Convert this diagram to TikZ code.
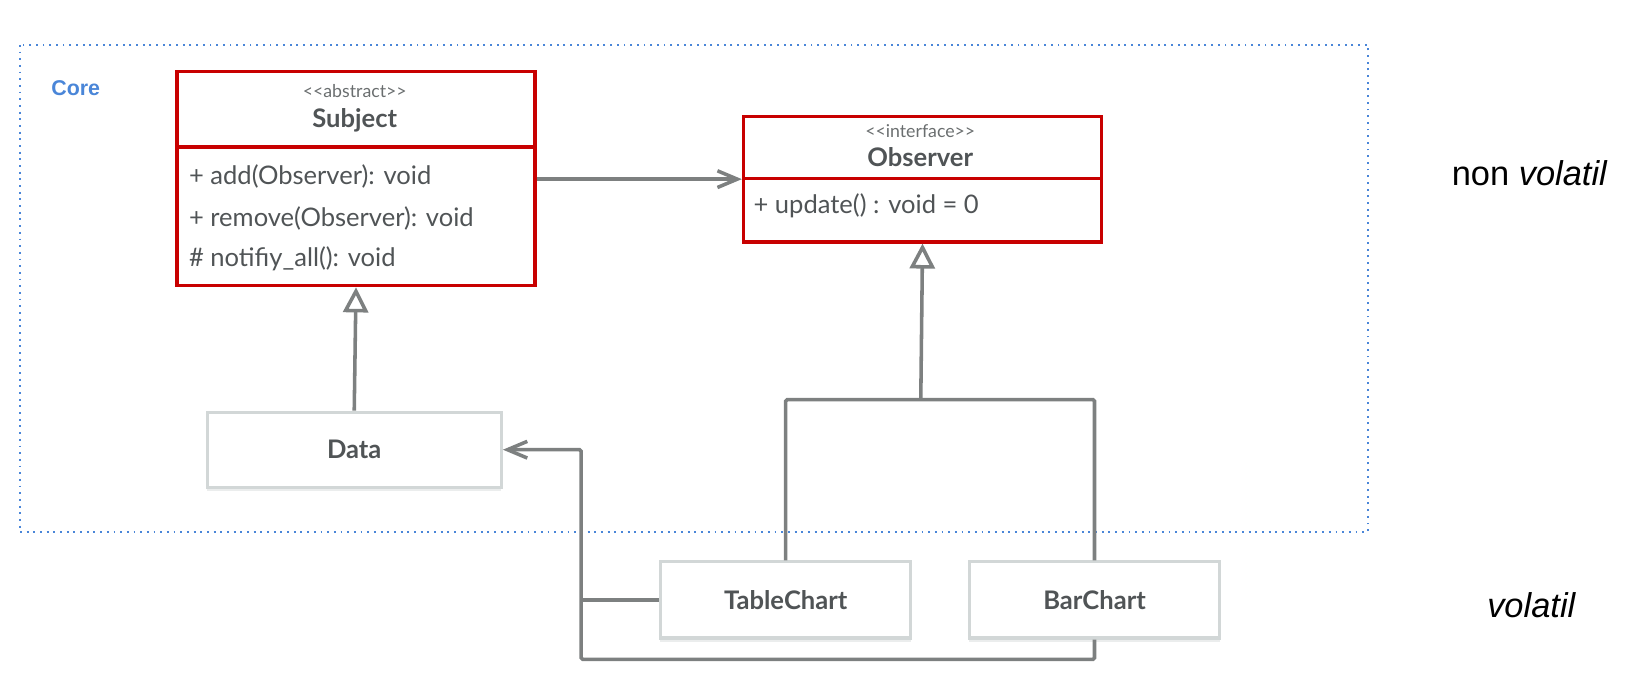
\documentclass[tikz,border=0pt]{standalone}
\usepackage{fontspec}
\setmainfont{Lato}
\newfontfamily\notefont{Liberation Sans}
\usepackage{xcolor}
\usetikzlibrary{arrows.meta,positioning,shadows}

\definecolor{umlred}{RGB}{200,0,0}
\definecolor{umlgray}{RGB}{125,128,128}
\definecolor{umltext}{RGB}{80,84,86}
\definecolor{lightedge}{RGB}{210,215,215}
\definecolor{coreblue}{RGB}{74,134,216}

\begin{document}
\begin{tikzpicture}[
    x=1pt, y=-1pt,
    classbox/.style={rectangle, draw=umlred, line width=3.4pt, minimum width=343pt, anchor=north west, inner sep=0pt},
    plainbox/.style={rectangle, draw=lightedge, fill=white, line width=3pt, minimum width=282pt, minimum height=72pt, font=\fontsize{24.5}{28}\selectfont\bfseries, text=umltext,
        drop shadow={shadow xshift=0pt, shadow yshift=-3.5pt, fill=lightedge!45, opacity=1}},
    stereo/.style={font=\fontsize{17}{19}\selectfont, text=umltext!85, inner sep=0pt},
    classname/.style={font=\fontsize{24.5}{28}\selectfont\bfseries, text=umltext, inner sep=0pt},
    member/.style={font=\fontsize{24.5}{28}\selectfont, text=umltext, anchor=west, inner sep=0pt},
    line/.style={draw=umlgray, line width=3.4pt, rounded corners=1.5pt},
    assoc/.style={line, -{Straight Barb[length=19pt, width=16pt]}},
    gen/.style={draw=umlgray, line width=3.4pt, -{Triangle[open, length=24pt, width=24pt, fill=white]}},
    note/.style={font=\notefont\fontsize{33}{38}\selectfont, text=black, inner sep=0pt}
]
\useasboundingbox (0,0) rectangle (1568,659);

% Package frame
\draw[coreblue, line width=1.6pt, dash pattern=on 1.8pt off 4.6pt] (19,43) rectangle (1311,510);
\node[font=\notefont\bfseries\fontsize{20.5}{24}\selectfont, text=coreblue, anchor=west, inner sep=0pt] (core) at (49,84) {Core};

% Nodes
\node[classbox, minimum height=205pt] (subject) at (168,67) {};
\draw[umlred, line width=3.4pt] (subject.west |- 0,141) -- (subject.east |- 0,141);
\node[stereo] (subjstereo) at (340,87) {<{}<abstract>{}>};
\node[classname] (subjname) at (340,115) {Subject};
\node[member] (add) at (181,169) {+ add(Observer): void};
\node[member] (remove) at (181,209) {+ remove(Observer): void};
\node[member] (notify) at (181,248) {\# notifiy\_all(): void};

\node[classbox, minimum height=120pt] (observer) at (711,110) {};
\draw[umlred, line width=3.4pt] (observer.west |- 0,171) -- (observer.east |- 0,171);
\node[stereo] (obsstereo) at (882,126) {<{}<interface>{}>};
\node[classname] (obsname) at (882,151) {Observer};
\node[member] (update) at (722,197) {+ update() : void = 0};

\node[plainbox] (data) at (339.5,431) {Data};
\node[plainbox, minimum width=240pt, minimum height=73pt] (tablechart) at (753,575) {TableChart};
\node[plainbox, minimum width=240pt, minimum height=73pt] (barchart) at (1049,575) {BarChart};

\node[note, anchor=east] (nonvolatil) at (1541,166) {non \textit{volatil}};
\node[note] (volatil) at (1468,580) {\textit{volatil}};

% Edges
\coordinate (join) at (882.5,383);
\coordinate (bus) at (557,632);
\draw[assoc] (subject.east |- observer.west) -- (observer.west);
\draw[gen] (data.north) -- (subject.south);
\draw[line] (tablechart.north) |- (join) -| (barchart.north);
\draw[gen] (join) -- (observer.south);
\draw[assoc] (barchart.south) |- (bus) |- (data.east);
\draw[line] (tablechart.west) -- (tablechart.west -| bus);

\end{tikzpicture}
\end{document}
